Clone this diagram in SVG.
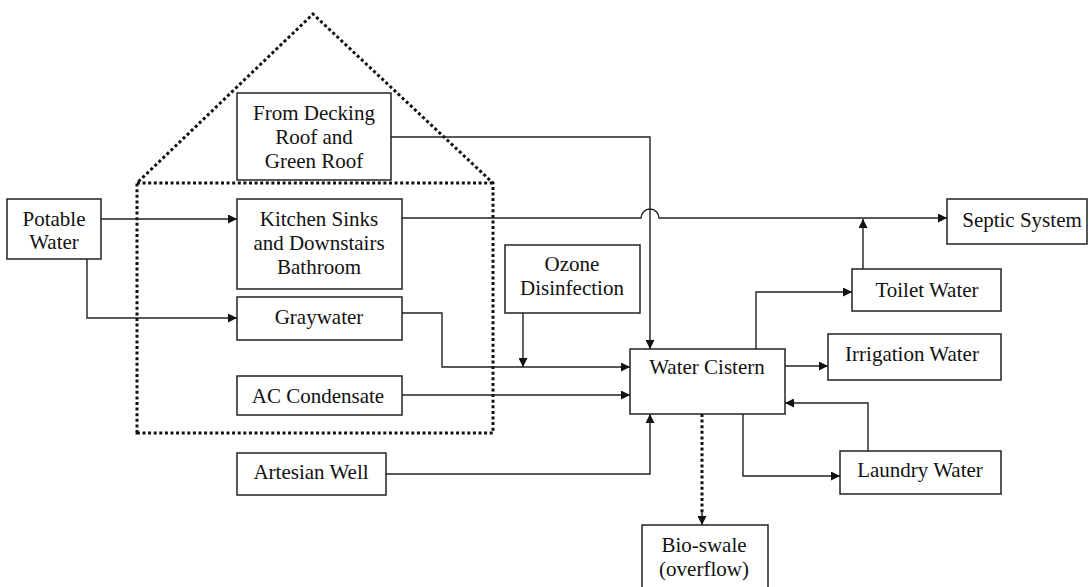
<svg xmlns="http://www.w3.org/2000/svg" width="1091" height="587" viewBox="0 0 1091 587">
<style>
.box{fill:#fff;stroke:#222;stroke-width:1.5}
.t{font-family:"Liberation Serif","Times New Roman",serif;font-size:21px;fill:#111;text-anchor:middle}
.c{fill:none;stroke:#222;stroke-width:1.4}
.dot{fill:none;stroke:#111;stroke-width:3;stroke-dasharray:3 2.6}
</style>
<defs>
<marker id="a" viewBox="0 0 10 10" refX="10" refY="5" markerWidth="11" markerHeight="9" orient="auto" markerUnits="userSpaceOnUse"><path d="M0,0 L10,5 L0,10 z" fill="#111"/></marker>
</defs>
<rect width="1091" height="587" fill="#fff"/>
<g id="house">
<path class="dot" d="M137,433 V183 L313,14 L493,183 V433 Z"/>
<path class="dot" d="M137,183 H493"/>
</g>
<g id="connectors">
<path class="c" d="M101,219 H237" marker-end="url(#a)"/>
<path class="c" d="M87,259 V318 H237" marker-end="url(#a)"/>
<path class="c" d="M391,137 H650 V349" marker-end="url(#a)"/>
<path class="c" d="M402,218 H641 A9,9 0 0 1 659,218 H947" marker-end="url(#a)"/>
<path class="c" d="M863,269 V219" marker-end="url(#a)"/>
<path class="c" d="M402,313 H442 V367 H630" marker-end="url(#a)"/>
<path class="c" d="M523,313 V367" marker-end="url(#a)"/>
<path class="c" d="M402,395 H630" marker-end="url(#a)"/>
<path class="c" d="M386,474 H650 V414" marker-end="url(#a)"/>
<path class="c" d="M756,349 V292 H852" marker-end="url(#a)"/>
<path class="c" d="M785,366 H828" marker-end="url(#a)"/>
<path class="c" d="M868,451 V403 H785" marker-end="url(#a)"/>
<path class="c" d="M743,414 V476 H840" marker-end="url(#a)"/>
<path class="dot" d="M702,414 V515"/>
<path class="c" d="M702,512 V525" marker-end="url(#a)"/>
</g>
<g id="potable"><rect class="box" x="7" y="199" width="94" height="60"/><text class="t" x="54" y="226">Potable</text><text class="t" x="54" y="249">Water</text></g>
<g id="decking"><rect class="box" x="237" y="93" width="154" height="87"/><text class="t" x="314" y="120">From Decking</text><text class="t" x="314" y="144">Roof and</text><text class="t" x="314" y="168">Green Roof</text></g>
<g id="kitchen"><rect class="box" x="237" y="199" width="165" height="90"/><text class="t" x="319" y="226">Kitchen Sinks</text><text class="t" x="319" y="250">and Downstairs</text><text class="t" x="319" y="274">Bathroom</text></g>
<g id="graywater"><rect class="box" x="237" y="297" width="165" height="43"/><text class="t" x="319" y="324">Graywater</text></g>
<g id="ac"><rect class="box" x="237" y="376" width="165" height="39"/><text class="t" x="318" y="403">AC Condensate</text></g>
<g id="artesian"><rect class="box" x="237" y="453" width="149" height="42"/><text class="t" x="311" y="479">Artesian Well</text></g>
<g id="ozone"><rect class="box" x="505" y="245" width="135" height="68"/><text class="t" x="572" y="271">Ozone</text><text class="t" x="572" y="295">Disinfection</text></g>
<g id="cistern"><rect class="box" x="630" y="349" width="155" height="65"/><text class="t" x="707" y="374">Water Cistern</text></g>
<g id="septic"><rect class="box" x="947" y="199" width="140" height="45"/><text class="t" x="1022" y="227">Septic System</text></g>
<g id="toilet"><rect class="box" x="852" y="269" width="149" height="42"/><text class="t" x="927" y="297">Toilet Water</text></g>
<g id="irrigation"><rect class="box" x="828" y="334" width="173" height="46"/><text class="t" x="912" y="361">Irrigation Water</text></g>
<g id="laundry"><rect class="box" x="840" y="451" width="161" height="43"/><text class="t" x="920" y="477">Laundry Water</text></g>
<g id="bioswale"><rect class="box" x="642" y="525" width="126" height="70"/><text class="t" x="704" y="552">Bio-swale</text><text class="t" x="704" y="576">(overflow)</text></g>
</svg>
